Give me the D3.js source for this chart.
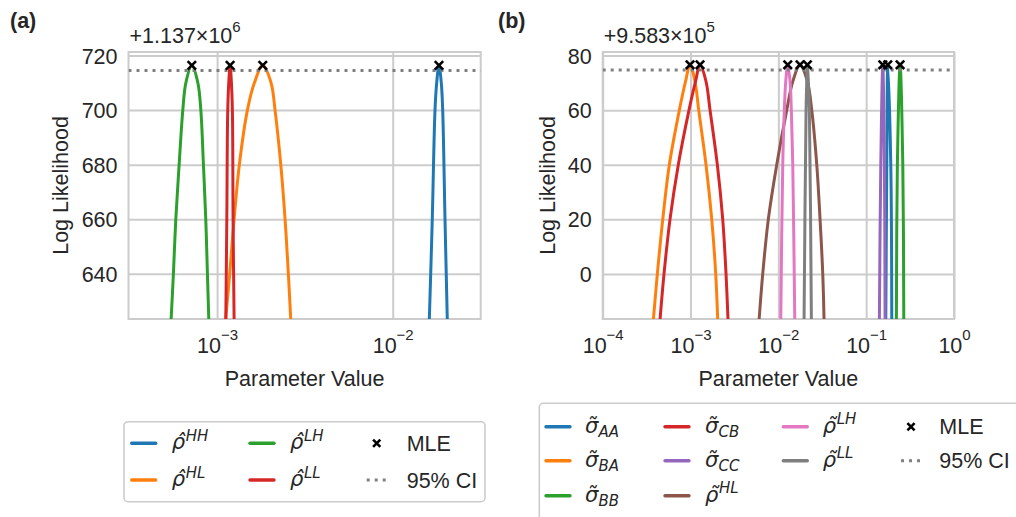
<!DOCTYPE html>
<html>
<head>
<meta charset="utf-8">
<script src="https://cdn.jsdelivr.net/npm/d3@7"></script>
<style>
body { margin: 0; background: #fff; }
svg { display: block; }
</style>
</head>
<body>
<svg id="chart" width="1016" height="517"></svg>
<script>
// panel (a): [parameter value, log likelihood - 1.137e6]
var rhoHH_a = [[0.01616, 623], [0.01680, 660], [0.01741, 700], [0.01780, 710], [0.01834, 716.4], [0.01891, 710], [0.01926, 700], [0.01985, 660], [0.02046, 623]];
var rhoHL_a = [[1.118e-3, 623], [1.180e-3, 640], [1.250e-3, 660], [1.339e-3, 680], [1.488e-3, 700], [1.631e-3, 710], [1.820e-3, 716.4], [2.029e-3, 710], [2.138e-3, 700], [2.305e-3, 680], [2.438e-3, 660], [2.546e-3, 640], [2.628e-3, 623]];
var rhoLH_a = [[5.47e-4, 623], [5.64e-4, 640], [5.82e-4, 660], [6.08e-4, 680], [6.38e-4, 700], [6.64e-4, 710], [7.18e-4, 716.4], [7.77e-4, 710], [8.08e-4, 700], [8.36e-4, 680], [8.62e-4, 660], [8.81e-4, 640], [8.97e-4, 623]];
var rhoLL_a = [[1.121e-3, 623], [1.136e-3, 660], [1.150e-3, 700], [1.170e-3, 712], [1.186e-3, 716.4], [1.202e-3, 712], [1.222e-3, 700], [1.233e-3, 660], [1.250e-3, 623]];

// panel (b): [parameter value, log likelihood - 9.583e5]
var sigAA_b = [[0.1672, -17], [0.1717, 40], [0.1762, 76.6], [0.1906, 40], [0.1956, -17]];
var sigBA_b = [[3.77e-4, -17], [4.19e-4, 0], [4.83e-4, 20], [5.74e-4, 40], [7.46e-4, 60], [8.77e-4, 70.5], [9.87e-4, 76.6], [1.125e-3, 70.5], [1.240e-3, 60], [1.501e-3, 40], [1.744e-3, 20], [1.936e-3, 0], [2.041e-3, -17]];
var sigBB_b = [[0.2208, -17], [0.2266, 40], [0.2433, 76.6], [0.2612, 40], [0.2681, -17]];
var sigCB_b = [[4.49e-4, -17], [4.99e-4, 0], [5.84e-4, 20], [7.26e-4, 40], [9.61e-4, 60], [1.140e-3, 70.5], [1.283e-3, 76.6], [1.501e-3, 70.5], [1.668e-3, 60], [2.020e-3, 40], [2.326e-3, 20], [2.537e-3, 0], [2.674e-3, -17]];
var sigCC_b = [[0.1413, -17], [0.1467, 40], [0.1546, 76.6], [0.1612, 40], [0.1642, -17]];
var rhoHL_b = [[6.03e-3, -17], [6.64e-3, 0], [7.69e-3, 20], [9.59e-3, 40], [1.246e-2, 60], [1.459e-2, 70.5], [1.767e-2, 76.6], [2.140e-2, 70.5], [2.401e-2, 60], [2.738e-2, 40], [2.985e-2, 20], [3.204e-2, 0], [3.315e-2, -17]];
var rhoLH_b = [[1.065e-2, -17], [1.122e-2, 40], [1.170e-2, 60], [1.214e-2, 70.5], [1.279e-2, 76.6], [1.359e-2, 70.5], [1.406e-2, 60], [1.459e-2, 40], [1.538e-2, -17]];
var rhoLL_b = [[1.962e-2, -17], [2.068e-2, 60], [2.106e-2, 70.5], [2.140e-2, 76.6], [2.196e-2, 70.5], [2.255e-2, 60], [2.377e-2, -17]];

var ciLevel_a = 714.5;
var ciLevel_b = 74.7;

var xTicks_a = [1e-3, 1e-2];
var xTicks_b = [1e-4, 1e-3, 1e-2, 1e-1, 1];
var yTicks_a = [640, 660, 680, 700, 720];
var yTicks_b = [0, 20, 40, 60, 80];

var TEXT = '#262626', GRID = '#cccccc';
var SANS = '"Liberation Sans", Arial, sans-serif';
var MATH = '"DejaVu Sans", sans-serif';
var FS = 21.5, FS_SMALL = 15;

var svg = d3.select('#chart');

// math-style label: accented symbol (combining mark) with super/subscript
function mathLabel(g, x, y, m) {
	var t = g.append('text').attr('font-family', MATH).attr('font-size', 21).attr('fill', TEXT)
		.attr('font-style', 'italic');
	t.append('tspan').attr('x', x).attr('y', y).text(m.base + m.acc);
	if (m.sup) {
		t.append('tspan').attr('x', x + 14).attr('y', y - 8.5)
			.attr('font-size', FS_SMALL).text(m.sup);
	}
	if (m.sub) {
		t.append('tspan').attr('x', x + 13.5).attr('y', y + 4)
			.attr('font-size', FS_SMALL).text(m.sub);
	}
}

function xMark(g, cx, cy, r, w) {
	g.append('path')
		.attr('d', 'M' + (cx - r) + ',' + (cy - r) + 'L' + (cx + r) + ',' + (cy + r) +
			'M' + (cx - r) + ',' + (cy + r) + 'L' + (cx + r) + ',' + (cy - r))
		.attr('stroke', '#000').attr('stroke-width', w).attr('fill', 'none');
}

function drawPanel(f) {
	var g = svg.append('g');
	var x = d3.scaleLog().domain(f.xDomain).range([f.left, f.right]);
	var y = d3.scaleLinear().domain(f.yDomain).range([f.bottom, f.top]);
	var w = f.right - f.left, h = f.bottom - f.top;

	// y grid + labels
	var ya = g.append('g').attr('transform', 'translate(' + f.left + ',0)')
		.call(d3.axisLeft(y).tickValues(f.yTicks).tickSize(-w).tickPadding(11).tickFormat(d3.format('d')));
	ya.select('.domain').remove();
	ya.selectAll('.tick line').attr('stroke', GRID).attr('stroke-width', 2);
	ya.selectAll('.tick text').attr('font-family', SANS).attr('font-size', FS).attr('fill', TEXT).attr('dy', '0.35em');

	// x grid + labels
	var xa = g.append('g').attr('transform', 'translate(0,' + f.bottom + ')')
		.call(d3.axisBottom(x).tickValues(f.xTicks).tickSize(-h).tickPadding(0));
	xa.select('.domain').remove();
	xa.selectAll('.tick line').attr('stroke', GRID).attr('stroke-width', 2);
	xa.selectAll('.tick text').each(function(d) {
		var t = d3.select(this).text(null).attr('y', 34).attr('dy', null)
			.attr('font-family', SANS).attr('font-size', FS).attr('fill', TEXT);
		t.append('tspan').text('10');
		var p = Math.round(Math.log10(d));
		t.append('tspan').attr('dy', -13).attr('font-size', FS_SMALL).text(p < 0 ? '\u2212' + (-p) : String(p));
	});

	// frame
	g.append('rect').attr('x', f.left).attr('y', f.top).attr('width', w).attr('height', h)
		.attr('fill', 'none').attr('stroke', GRID).attr('stroke-width', 2);

	// curves
	var clipId = 'clip-' + f.id;
	g.append('clipPath').attr('id', clipId).append('rect')
		.attr('x', f.left).attr('y', f.top).attr('width', w).attr('height', h);
	var line = d3.line().x(function(d) { return x(d[0]); }).y(function(d) { return y(d[1]); })
		.curve(d3.curveCatmullRom.alpha(0.5));
	var cg = g.append('g').attr('clip-path', 'url(#' + clipId + ')');
	cg.selectAll('path.prof').data(f.series).join('path')
		.attr('class', 'prof')
		.attr('d', function(s) { return line(s.pts); })
		.attr('fill', 'none').attr('stroke', function(s) { return s.color; })
		.attr('stroke-width', 3).attr('stroke-linejoin', 'round');

	// 95% CI level
	cg.append('line').attr('x1', f.left).attr('x2', f.right)
		.attr('y1', y(f.ci)).attr('y2', y(f.ci))
		.attr('stroke', '#808080').attr('stroke-width', 3).attr('stroke-dasharray', '3,5');

	// MLE markers at each profile maximum
	f.series.forEach(function(s) {
		var best = s.pts.reduce(function(a, b) { return b[1] > a[1] ? b : a; });
		xMark(g, x(best[0]), y(best[1]), 4.2, 2.6);
	});

	// axis titles
	g.append('text').attr('x', (f.left + f.right) / 2).attr('y', 386)
		.attr('text-anchor', 'middle').attr('font-family', SANS).attr('font-size', FS)
		.attr('fill', TEXT).text('Parameter Value');
	g.append('text').attr('transform', 'translate(' + f.yTitleX + ',' + ((f.top + f.bottom) / 2) + ') rotate(-90)')
		.attr('text-anchor', 'middle').attr('font-family', SANS).attr('font-size', FS)
		.attr('fill', TEXT).text('Log Likelihood');

	// offset text
	var ot = g.append('text').attr('x', f.left + 1).attr('y', 43)
		.attr('font-family', SANS).attr('font-size', FS).attr('fill', TEXT);
	ot.append('tspan').text(f.offset[0]);
	ot.append('tspan').attr('dy', -11).attr('font-size', FS_SMALL).text(f.offset[1]);

	// panel letter
	g.append('text').attr('x', f.letterX).attr('y', 28)
		.attr('font-family', SANS).attr('font-size', FS).attr('font-weight', 'bold')
		.attr('fill', TEXT).text(f.letter);

	// legend
	var L = f.legend;
	g.append('rect').attr('x', L.x).attr('y', L.y).attr('width', L.w).attr('height', L.h)
		.attr('rx', 4).attr('fill', '#fff').attr('stroke', GRID).attr('stroke-width', 1.6);
	f.series.forEach(function(s, i) {
		var col = Math.floor(i / L.rowsPer), row = i % L.rowsPer;
		var lx = L.lineX[col], ry = L.rowY[row];
		g.append('line').attr('x1', lx).attr('x2', lx + 24).attr('y1', ry).attr('y2', ry)
			.attr('stroke', s.color).attr('stroke-width', 3.4).attr('stroke-linecap', 'round');
		mathLabel(g, L.textX[col], ry + 6, s.label);
	});
	var mc = L.extra;
	xMark(g, mc.markX, L.rowY[0], 3.6, 2.6);
	g.append('text').attr('x', mc.textX).attr('y', L.rowY[0] + 7.5)
		.attr('font-family', SANS).attr('font-size', FS).attr('fill', TEXT).text('MLE');
	g.append('line').attr('x1', mc.markX - 10).attr('x2', mc.markX + 12)
		.attr('y1', L.rowY[1]).attr('y2', L.rowY[1])
		.attr('stroke', '#808080').attr('stroke-width', 3).attr('stroke-dasharray', '3,5');
	g.append('text').attr('x', mc.textX).attr('y', L.rowY[1] + 7.5)
		.attr('font-family', SANS).attr('font-size', FS).attr('fill', TEXT).text('95% CI');
}

var hat = '\u0302', tilde = '\u0303';

drawPanel({
	id: 'a', letter: '(a)', letterX: 10,
	left: 128.5, right: 480.7, top: 52, bottom: 319,
	xDomain: [3.13e-4, 3.17e-2], yDomain: [623.4, 721.3],
	xTicks: xTicks_a, yTicks: yTicks_a, ci: ciLevel_a,
	yTitleX: 68, offset: ['+1.137\u00D710', '6'],
	series: [
		{ pts: rhoHH_a, color: '#1f77b4', label: { base: '\u03C1', acc: hat, sup: 'HH' } },
		{ pts: rhoHL_a, color: '#ff7f0e', label: { base: '\u03C1', acc: hat, sup: 'HL' } },
		{ pts: rhoLH_a, color: '#2ca02c', label: { base: '\u03C1', acc: hat, sup: 'LH' } },
		{ pts: rhoLL_a, color: '#d62728', label: { base: '\u03C1', acc: hat, sup: 'LL' } }
	],
	legend: {
		x: 124, y: 421.7, w: 361, h: 80, rowsPer: 2,
		rowY: [443.3, 480], lineX: [131.7, 250], textX: [171.7, 290],
		extra: { markX: 376.7, textX: 406.7 }
	}
});

drawPanel({
	id: 'b', letter: '(b)', letterX: 498,
	left: 602.7, right: 954, top: 52, bottom: 319,
	xDomain: [1e-4, 1], yDomain: [-16.5, 81.3],
	xTicks: xTicks_b, yTicks: yTicks_b, ci: ciLevel_b,
	yTitleX: 554.5, offset: ['+9.583\u00D710', '5'],
	series: [
		{ pts: sigAA_b, color: '#1f77b4', label: { base: '\u03C3', acc: tilde, sub: 'AA' } },
		{ pts: sigBA_b, color: '#ff7f0e', label: { base: '\u03C3', acc: tilde, sub: 'BA' } },
		{ pts: sigBB_b, color: '#2ca02c', label: { base: '\u03C3', acc: tilde, sub: 'BB' } },
		{ pts: sigCB_b, color: '#d62728', label: { base: '\u03C3', acc: tilde, sub: 'CB' } },
		{ pts: sigCC_b, color: '#9467bd', label: { base: '\u03C3', acc: tilde, sub: 'CC' } },
		{ pts: rhoHL_b, color: '#8c564b', label: { base: '\u03C1', acc: tilde, sup: 'HL' } },
		{ pts: rhoLH_b, color: '#e377c2', label: { base: '\u03C1', acc: tilde, sup: 'LH' } },
		{ pts: rhoLL_b, color: '#7f7f7f', label: { base: '\u03C1', acc: tilde, sup: 'LL' } }
	],
	legend: {
		x: 539.3, y: 403.3, w: 600, h: 200, rowsPer: 3,
		rowY: [426.7, 460.7, 495.7], lineX: [546, 665, 783.3], textX: [585, 705, 822.7],
		extra: { markX: 911, textX: 939.3 }
	}
});
</script>
</body>
</html>
